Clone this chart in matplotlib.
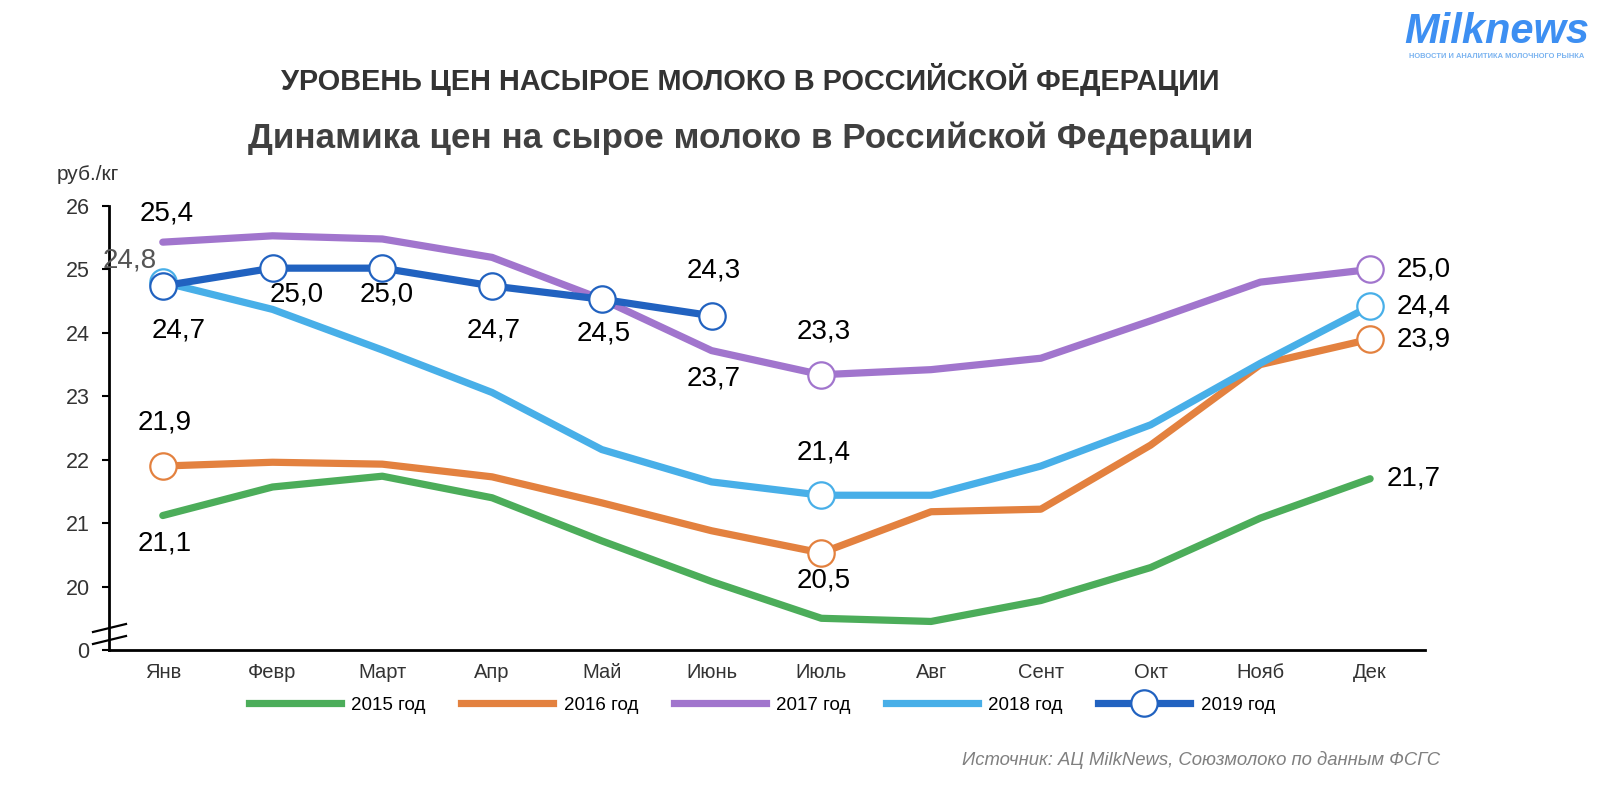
import matplotlib
matplotlib.use("Agg")
import matplotlib.pyplot as plt
from matplotlib.lines import Line2D

plt.rcParams['font.family'] = ['Liberation Sans', 'DejaVu Sans']

months = ["Янв", "Февр", "Март", "Апр", "Май", "Июнь", "Июль", "Авг", "Сент", "Окт", "Нояб", "Дек"]
y2015 = [21.12, 21.57, 21.74, 21.40, 20.72, 20.08, 19.50, 19.45, 19.78, 20.30, 21.08, 21.70]
y2016 = [21.90, 21.96, 21.93, 21.73, 21.32, 20.88, 20.53, 21.18, 21.22, 22.23, 23.50, 23.90]
y2017 = [25.43, 25.53, 25.48, 25.19, 24.53, 23.72, 23.34, 23.42, 23.60, 24.19, 24.80, 25.00]
y2018 = [24.80, 24.37, 23.73, 23.06, 22.16, 21.65, 21.44, 21.44, 21.90, 22.55, 23.52, 24.42]
y2019 = [24.74, 25.02, 25.02, 24.74, 24.53, 24.27]
series_names = ["2015 год", "2016 год", "2017 год", "2018 год", "2019 год"]
ytick_vals = [19, 20, 21, 22, 23, 24, 25, 26]
ytick_labels = ["0", "20", "21", "22", "23", "24", "25", "26"]

colors = ["#4cad5a", "#e3813f", "#a175cd", "#48afe8", "#2162c0"]

fig = plt.figure(figsize=(16, 7.86), dpi=100)
ax = fig.add_axes([109/1600, 1-650/786, (1425-109)/1600, (650-206)/786])

data = [y2015, y2016, y2017, y2018, y2019]
markers_idx = [[], [0, 6, 11], [6, 11], [0, 6, 11], list(range(6))]
lw = 5.2
ms = 19
for i, ys in enumerate(data):
    xs = list(range(len(ys)))
    ax.plot(xs, ys, color=colors[i], lw=lw, solid_capstyle='round', zorder=2 + i,
            marker='o', markevery=markers_idx[i] if markers_idx[i] else [],
            markersize=ms, markerfacecolor='white', markeredgecolor=colors[i],
            markeredgewidth=1.6, clip_on=False)

def fmt(v):
    return f"{v:.1f}".replace(".", ",")

# (series, index, dx px, dy px, color)
labels = [
    (4, 0, 16, -45, "black"), (4, 1, 24, -26, "black"), (4, 2, 4, -26, "black"),
    (4, 3, 2, -45, "black"), (4, 4, 2, -34, "black"), (4, 5, 2, 45, "black"),
    (3, 0, -33, 22, "#555555"), (3, 6, 2, 43, "black"), (3, 11, 54, 0, "black"),
    (2, 0, 4, 29, "black"), (2, 5, 2, -28, "black"), (2, 6, 2, 43, "black"), (2, 11, 54, 0, "black"),
    (1, 0, 2, 44, "black"), (1, 6, 2, -28, "black"), (1, 11, 54, 0, "black"),
    (0, 0, 2, -28, "black"), (0, 11, 44, 0, "black"),
]
for s, idx, dx, dy, c in labels:
    v = data[s][idx]
    ax.annotate(fmt(v), (idx, v), xytext=(dx, dy), textcoords='offset pixels',
                ha='center', va='center', fontsize=20, color=c, zorder=20,
                annotation_clip=False)

ax.set_xlim(-0.49, 11.5)
ax.set_ylim(19, 26)
ax.set_xticks(range(12))
ax.set_xticklabels(months, fontsize=14.5, color="#333333")
ax.tick_params(axis='x', length=0, pad=9)
ax.set_yticks(ytick_vals)
ax.set_yticklabels(ytick_labels, fontsize=15.5, color="#333333")
ax.tick_params(axis='y', length=5, width=1.5, direction='out', pad=9)
for sp in ['top', 'right']:
    ax.spines[sp].set_visible(False)
ax.spines['left'].set_linewidth(2)
ax.spines['bottom'].set_linewidth(2)

# axis break marks
for yb in (632, 644):
    fig.add_artist(Line2D([93/1600, 126/1600], [1-yb/786, 1-(yb-8)/786],
                          color='black', lw=1.6, transform=fig.transFigure))

fig.text(57/1600, 1-174/786, "руб./кг", fontsize=15, color="#333333", va='center')

fig.text(0.469, 1-79/786, "УРОВЕНЬ ЦЕН НАСЫРОЕ МОЛОКО В РОССИЙСКОЙ ФЕДЕРАЦИИ",
         ha='center', va='center', fontsize=20.8, fontweight='bold', color="#333333")
fig.text(0.469, 1-138/786, "Динамика цен на сырое молоко в Российской Федерации",
         ha='center', va='center', fontsize=25.2, fontweight='bold', color="#404040")

fig.text(1440/1600, 1-760/786, "Источник: АЦ MilkNews, Союзмолоко по данным ФСГС",
         ha='right', va='center', fontsize=13.3, style='italic', color="#808080")

fig.text(1497/1600, 1-32/786, "Milknews", ha='center', va='center', fontsize=30,
         style='italic', fontweight='bold', color="#3d8ff2")
fig.text(1497/1600, 1-57/786, "НОВОСТИ И АНАЛИТИКА МОЛОЧНОГО РЫНКА", ha='center', va='center',
         fontsize=5.4, fontweight='bold', color="#7ab3f0")

handles = []
for i, name in enumerate(series_names):
    if i == 4:
        h = Line2D([0], [0], color=colors[i], lw=lw, marker='o', markersize=ms,
                   markerfacecolor='white', markeredgecolor=colors[i], markeredgewidth=1.6)
    else:
        h = Line2D([0], [0], color=colors[i], lw=lw)
    handles.append(h)
fig.legend(handles, series_names, loc='center', bbox_to_anchor=(762/1600, 1-705/786),
           ncol=5, frameon=False, fontsize=13.5, handlelength=4.9, columnspacing=1.9,
           handletextpad=0.55)

fig.savefig("out.png", dpi=100, facecolor='white')
